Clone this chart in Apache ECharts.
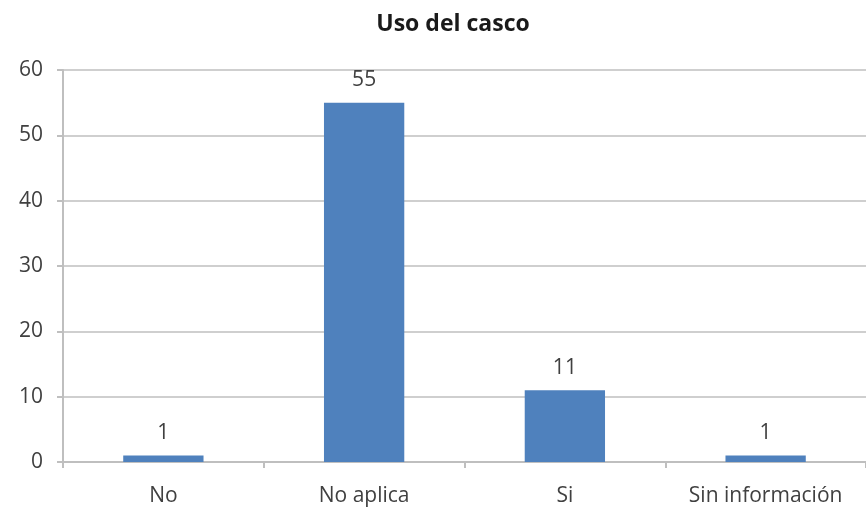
<!DOCTYPE html>
<html><head><meta charset="utf-8">
<script src="https://cdn.jsdelivr.net/npm/echarts@6/dist/echarts.min.js"></script>
<style>html,body{margin:0;padding:0;background:#fff}#c{width:866px;height:508px}</style>
</head><body><div id="c"></div>
<script>
const titleText = 'Uso del casco';
const categories = ['No', 'No aplica', 'Si', 'Sin información'];
const values = [1, 55, 11, 1];
const yTicks = {min: 0, max: 60, interval: 10};

const chart = echarts.init(document.getElementById('c'), null, {renderer: 'canvas'});
const font = '"Open Sans", "Liberation Sans", sans-serif';
chart.setOption({
  animation: false,
  backgroundColor: '#ffffff',
  title: {
    text: titleText, left: 448, top: 8, textAlign: 'center',
    textStyle: {fontFamily: font, fontSize: 23, fontWeight: 'bold', color: '#1a1a1a'}
  },
  grid: {left: 63, right: -4, top: 70, bottom: 46, containLabel: false},
  xAxis: {
    type: 'category', data: categories,
    axisLine: {lineStyle: {color: '#bfbfbf', width: 2}},
    axisTick: {show: true, alignWithLabel: false, length: 6, lineStyle: {color: '#bfbfbf', width: 2}},
    axisLabel: {fontFamily: font, fontSize: 21, color: '#404040', margin: 24}
  },
  yAxis: {
    type: 'value', min: yTicks.min, max: yTicks.max, interval: yTicks.interval,
    axisLine: {show: true, lineStyle: {color: '#bfbfbf', width: 2}},
    axisTick: {show: true, length: 6, lineStyle: {color: '#bfbfbf', width: 2}},
    axisLabel: {fontFamily: font, fontSize: 21, color: '#404040', margin: 20},
    splitLine: {lineStyle: {color: '#cfcfcf', width: 2}}
  },
  series: [{
    type: 'bar', data: values, barWidth: '40%',
    itemStyle: {color: '#4F81BD'},
    label: {show: true, position: 'top', distance: 12, fontFamily: font, fontSize: 21, color: '#404040'}
  }]
});
</script></body></html>
